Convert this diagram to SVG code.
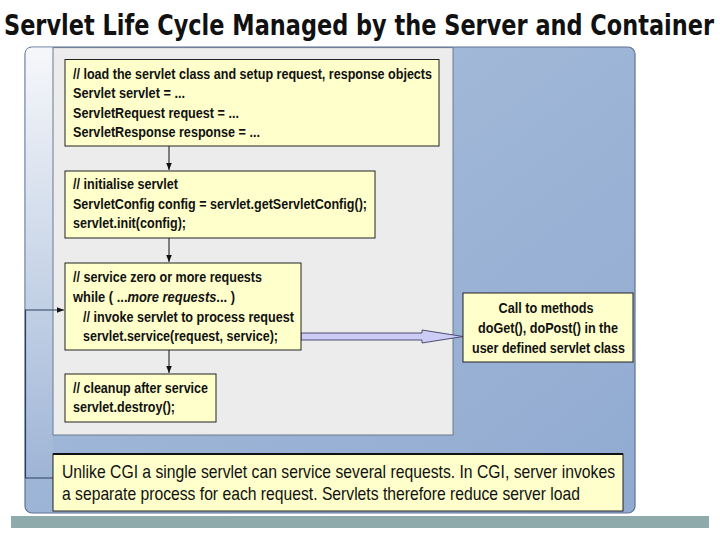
<svg xmlns="http://www.w3.org/2000/svg" width="720" height="540" viewBox="0 0 720 540">
<defs>
<style>
.t{font-family:"Liberation Sans",Arial,sans-serif;font-weight:bold;font-size:15.5px;fill:#111}
.n{font-family:"Liberation Sans",Arial,sans-serif;font-size:18.5px;fill:#111}
.box{fill:#ffffcc;stroke:#222;stroke-width:1}
.con{stroke:#111;stroke-width:1;fill:none}
</style>
<linearGradient id="blue" x1="0" y1="0" x2="1" y2="1">
<stop offset="0" stop-color="#a9bfdc"/>
<stop offset="1" stop-color="#91aad0"/>
</linearGradient>
<linearGradient id="strip" x1="0" y1="0" x2="0" y2="1">
<stop offset="0" stop-color="#f6f7fa"/>
<stop offset="0.45" stop-color="#cfdaea"/>
<stop offset="1" stop-color="#9fb5d6"/>
</linearGradient>
<marker id="ah" viewBox="0 0 10 10" refX="10" refY="5" markerWidth="7" markerHeight="7" orient="auto" markerUnits="userSpaceOnUse">
<path d="M0,1 L10,5 L0,9 z" fill="#111"/>
</marker>
</defs>
<rect width="720" height="540" fill="#ffffff"/>
<text x="4" y="35" font-family="'DejaVu Sans Condensed','DejaVu Sans',sans-serif" font-weight="bold" font-size="29" fill="#111" textLength="710" lengthAdjust="spacingAndGlyphs">Servlet Life Cycle Managed by the Server and Container</text>
<rect x="11" y="516" width="698" height="12" fill="#8faaaa"/>
<g id="panel">
<rect x="25" y="47" width="610" height="466" rx="7" fill="url(#blue)" stroke="#5d7396" stroke-width="1.2"/>
<path d="M32,47.6 H53 V478 H25.6 V54 Q25.6,47.6 32,47.6 z" fill="url(#strip)"/>
<rect x="53" y="47.6" width="400" height="387.4" fill="#ececec" stroke="#6a7a90" stroke-width="1"/>
</g>
<g id="connectors">
<line class="con" x1="169" y1="146" x2="169" y2="170" marker-end="url(#ah)"/>
<line class="con" x1="169" y1="238" x2="169" y2="262" marker-end="url(#ah)"/>
<line class="con" x1="169" y1="350" x2="169" y2="373" marker-end="url(#ah)"/>
<path d="M53,478 H25.5 V310 H64" stroke="#2c3f60" stroke-width="1.2" fill="none" marker-end="url(#ah)"/>
<path d="M301,333 H422 V330 L463,336.5 L422,343 V340 H301 z" fill="#ccccf6" stroke="#4d4d70" stroke-width="1"/>
</g>
<g id="load">
<rect class="box" x="65" y="59.5" width="374" height="86.5"/>
<text class="t" x="73" y="79" textLength="359" lengthAdjust="spacingAndGlyphs">// load the servlet class and setup request, response objects</text>
<text class="t" x="73" y="98" textLength="112" lengthAdjust="spacingAndGlyphs">Servlet servlet = ...</text>
<text class="t" x="73" y="118" textLength="166" lengthAdjust="spacingAndGlyphs">ServletRequest request = ...</text>
<text class="t" x="73" y="137" textLength="187" lengthAdjust="spacingAndGlyphs">ServletResponse response = ...</text>
</g>
<g id="init">
<rect class="box" x="65" y="171" width="310" height="67"/>
<text class="t" x="73" y="189" textLength="105" lengthAdjust="spacingAndGlyphs">// initialise servlet</text>
<text class="t" x="73" y="209" textLength="294" lengthAdjust="spacingAndGlyphs">ServletConfig config = servlet.getServletConfig();</text>
<text class="t" x="73" y="228" textLength="113" lengthAdjust="spacingAndGlyphs">servlet.init(config);</text>
</g>
<g id="service">
<rect class="box" x="65" y="263" width="236" height="87"/>
<text class="t" x="73" y="282" textLength="189" lengthAdjust="spacingAndGlyphs">// service zero or more requests</text>
<text class="t" x="73" y="302" textLength="162" lengthAdjust="spacingAndGlyphs">while ( ...<tspan font-style="italic">more requests</tspan>... )</text>
<text class="t" x="83" y="322" textLength="211" lengthAdjust="spacingAndGlyphs">// invoke servlet to process request</text>
<text class="t" x="83" y="341" textLength="195" lengthAdjust="spacingAndGlyphs">servlet.service(request, service);</text>
</g>
<g id="destroy">
<rect class="box" x="65" y="374" width="151" height="48"/>
<text class="t" x="73" y="393" textLength="135" lengthAdjust="spacingAndGlyphs">// cleanup after service</text>
<text class="t" x="73" y="412" textLength="102" lengthAdjust="spacingAndGlyphs">servlet.destroy();</text>
</g>
<g id="methods">
<rect class="box" x="463" y="293" width="170" height="69"/>
<text class="t" x="546" y="313" text-anchor="middle" textLength="95" lengthAdjust="spacingAndGlyphs">Call to methods</text>
<text class="t" x="548" y="333" text-anchor="middle" textLength="140" lengthAdjust="spacingAndGlyphs">doGet(), doPost() in the</text>
<text class="t" x="548.5" y="353" text-anchor="middle" textLength="153" lengthAdjust="spacingAndGlyphs">user defined servlet class</text>
</g>
<g id="note">
<rect x="53" y="454" width="570" height="57" fill="#ffffcc" stroke="#222" stroke-width="1"/>
<line x1="53" y1="454" x2="623" y2="454" stroke="#111" stroke-width="2"/>
<text class="n" x="62" y="478" textLength="553" lengthAdjust="spacingAndGlyphs">Unlike CGI a single servlet can service several requests. In CGI, server invokes</text>
<text class="n" x="62" y="500" textLength="518" lengthAdjust="spacingAndGlyphs">a separate process for each request. Servlets therefore reduce server load</text>
</g>
</svg>
